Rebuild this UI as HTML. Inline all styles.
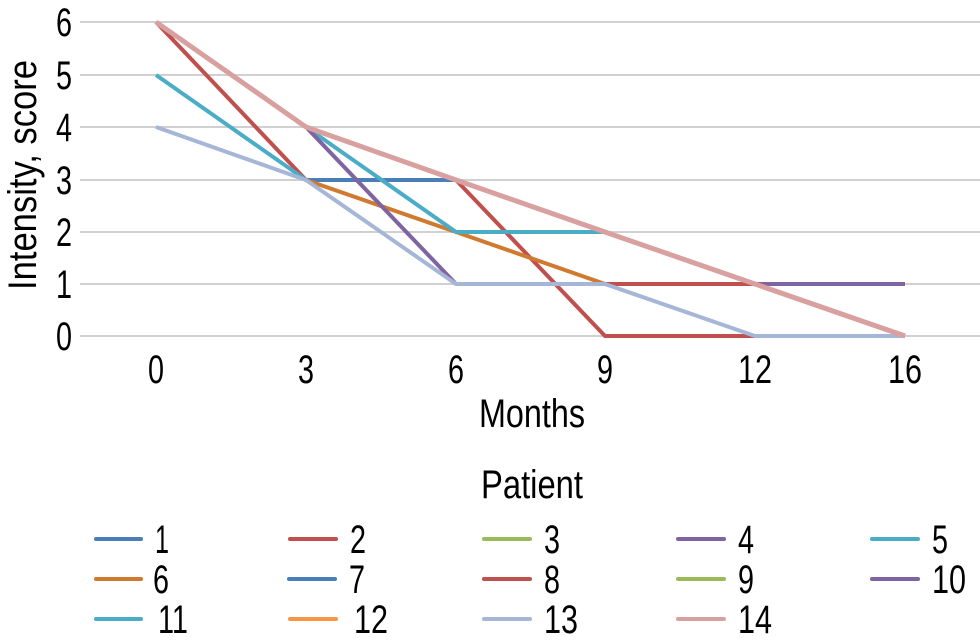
<!DOCTYPE html>
<html><head><meta charset="utf-8"><style>
html,body{margin:0;padding:0;background:#fff;width:980px;height:642px;overflow:hidden}
text{font-family:"Liberation Sans",sans-serif;fill:#000}
</style></head><body>
<svg width="980" height="642" viewBox="0 0 980 642" xmlns="http://www.w3.org/2000/svg">
<g stroke="#d0d0d0" stroke-width="2">
<line x1="80" x2="980" y1="22" y2="22"/><line x1="80" x2="980" y1="75" y2="75"/>
<line x1="80" x2="980" y1="127" y2="127"/><line x1="80" x2="980" y1="180" y2="180"/>
<line x1="80" x2="980" y1="232" y2="232"/><line x1="80" x2="980" y1="284" y2="284"/>
<line x1="80" x2="980" y1="336" y2="336"/>
</g>
<g font-size="40" text-anchor="end">
<text x="72" y="36" textLength="16" lengthAdjust="spacingAndGlyphs">6</text><text x="72" y="89" textLength="16" lengthAdjust="spacingAndGlyphs">5</text><text x="72" y="141" textLength="16" lengthAdjust="spacingAndGlyphs">4</text>
<text x="72" y="194" textLength="16" lengthAdjust="spacingAndGlyphs">3</text><text x="72" y="246" textLength="16" lengthAdjust="spacingAndGlyphs">2</text><text x="72" y="298" textLength="16" lengthAdjust="spacingAndGlyphs">1</text><text x="72" y="350" textLength="16" lengthAdjust="spacingAndGlyphs">0</text>
</g>
<g font-size="40" text-anchor="middle">
<text x="156" y="383" textLength="16" lengthAdjust="spacingAndGlyphs">0</text><text x="306" y="383" textLength="16" lengthAdjust="spacingAndGlyphs">3</text><text x="456" y="383" textLength="16" lengthAdjust="spacingAndGlyphs">6</text>
<text x="605" y="383" textLength="16" lengthAdjust="spacingAndGlyphs">9</text><text x="755" y="383" textLength="34" lengthAdjust="spacingAndGlyphs">12</text><text x="905" y="383" textLength="34" lengthAdjust="spacingAndGlyphs">16</text>
<text x="532" y="427" textLength="106" lengthAdjust="spacingAndGlyphs">Months</text>
<text x="532" y="498" textLength="102" lengthAdjust="spacingAndGlyphs">Patient</text>
</g>
<text font-size="40" text-anchor="middle" transform="translate(36,175) rotate(-90)" textLength="230" lengthAdjust="spacingAndGlyphs">Intensity, score</text>
<g fill="none" stroke-width="4" stroke-linejoin="round">
<polyline stroke="#c0504d" points="156,22 306,180 456,180 605,336 755,336 905,336"/>
<polyline stroke="#4bacc6" points="156,75 306,180"/>
<polyline stroke="#4a7ebb" points="306,180 456,180"/>
<polyline stroke="#d07a30" points="306,180 456,232 605,284"/>
<polyline stroke="#4bacc6" points="306,127 456,232 605,232"/>
<polyline stroke="#8064a2" points="306,127 456,284"/>
<polyline stroke="#c0504d" points="605,284 755,284"/>
<polyline stroke="#8064a2" points="755,284 905,284"/>
<polyline stroke="#a5b6d6" points="156,127 306,180 456,284 605,284 755,336 905,336"/>
<polyline stroke="#d9a0a0" stroke-width="5" points="156,22 306,127 456,180 605,232 755,284 905,336"/>
</g>
<g stroke-width="4" stroke-linecap="round">
<line x1="96" x2="141" y1="539" y2="539" stroke="#4a7ebb"/>
<line x1="290" x2="336" y1="539" y2="539" stroke="#c0504d"/>
<line x1="484" x2="530" y1="539" y2="539" stroke="#9bbb59"/>
<line x1="678" x2="724" y1="539" y2="539" stroke="#8064a2"/>
<line x1="872" x2="918" y1="539" y2="539" stroke="#4bacc6"/>
<line x1="96" x2="141" y1="579" y2="579" stroke="#d07a30"/>
<line x1="289" x2="335" y1="579" y2="579" stroke="#4a7ebb"/>
<line x1="484" x2="530" y1="579" y2="579" stroke="#c0504d"/>
<line x1="678" x2="724" y1="579" y2="579" stroke="#9bbb59"/>
<line x1="872" x2="918" y1="579" y2="579" stroke="#8064a2"/>
<line x1="96" x2="141" y1="619" y2="619" stroke="#4bacc6"/>
<line x1="290" x2="336" y1="619" y2="619" stroke="#f79646"/>
<line x1="484" x2="530" y1="619" y2="619" stroke="#a5b6d6"/>
<line x1="678" x2="724" y1="619" y2="619" stroke="#d9a0a0"/>
</g>
<g font-size="40">
<text x="155" y="553" textLength="14" lengthAdjust="spacingAndGlyphs">1</text><text x="350" y="553" textLength="16" lengthAdjust="spacingAndGlyphs">2</text><text x="544" y="553" textLength="16" lengthAdjust="spacingAndGlyphs">3</text><text x="738" y="553" textLength="16" lengthAdjust="spacingAndGlyphs">4</text><text x="932" y="553" textLength="16" lengthAdjust="spacingAndGlyphs">5</text>
<text x="153" y="593" textLength="16" lengthAdjust="spacingAndGlyphs">6</text><text x="349" y="593" textLength="16" lengthAdjust="spacingAndGlyphs">7</text><text x="544" y="593" textLength="16" lengthAdjust="spacingAndGlyphs">8</text><text x="738" y="593" textLength="16" lengthAdjust="spacingAndGlyphs">9</text><text x="932" y="593" textLength="34" lengthAdjust="spacingAndGlyphs">10</text>
<text x="158" y="633" textLength="30" lengthAdjust="spacingAndGlyphs">11</text><text x="354" y="633" textLength="34" lengthAdjust="spacingAndGlyphs">12</text><text x="544" y="633" textLength="34" lengthAdjust="spacingAndGlyphs">13</text><text x="738" y="633" textLength="34" lengthAdjust="spacingAndGlyphs">14</text>
</g>
</svg>
</body></html>
